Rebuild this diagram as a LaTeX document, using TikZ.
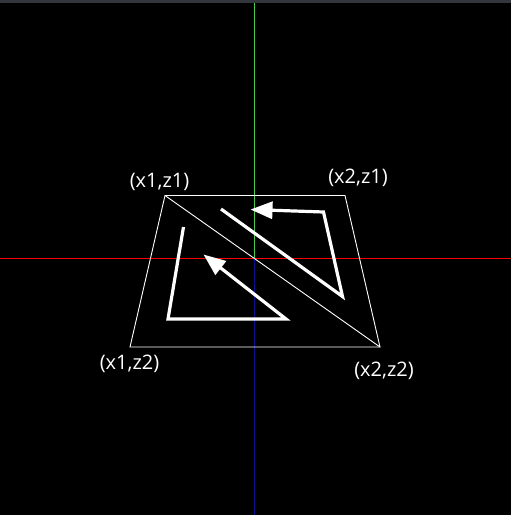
\documentclass[tikz,border=0pt]{standalone}
\usepackage{fontspec}
\setmainfont{Open Sans}
\usetikzlibrary{arrows.meta}
\tikzset{
  edge/.style={draw=white, line width=0.9pt},
  bigarrow/.style={draw=white, line width=3.2pt, line join=miter, -{Triangle[length=22pt,width=17pt]}},
  lbl/.style={text=white, font=\fontsize{20}{24}\selectfont, inner sep=0pt}
}
\begin{document}
\begin{tikzpicture}[x=1pt,y=-1pt]
\fill[black] (0,0) rectangle (511,515);
\useasboundingbox (0,0) rectangle (511,515);
\fill[fill={rgb,255:red,51;green,54;blue,60}] (0,0) rectangle (511,3);
% axes
\coordinate (top) at (254.5,3);
\coordinate (o) at (254.5,258.5);
\coordinate (bot) at (254.5,515);
\coordinate (left) at (0,258.5);
\coordinate (right) at (511,258.5);
\draw[red, line width=1.6pt] (left) -- (right);
\draw[green, line width=1.6pt] (top) -- (o);
\draw[blue, line width=1.6pt] (o) -- (bot);
% trapezoid
\coordinate (A) at (165,195.5);
\coordinate (B) at (345,195.5);
\coordinate (C) at (380,347);
\coordinate (D) at (130,347);
\draw[edge] (A) -- (B) -- (C) -- (D) -- cycle;
\draw[edge] (A) -- (C);
% arrows
\coordinate (p1) at (183.5,227);
\coordinate (p2) at (168,319);
\coordinate (p3) at (286,319);
\coordinate (p4) at (203.5,254.5);
\draw[bigarrow] (p1) -- (p2) -- (p3) -- (p4);
\coordinate (q1) at (221,209);
\coordinate (q2) at (342.5,296.5);
\coordinate (q3) at (323.5,212);
\coordinate (q4) at (250.5,209.5);
\draw[bigarrow] (q1) -- (q2) -- (q3) -- (q4);
% labels
\node[lbl] (l1) at (159.5,182) {(x1,z1)};
\node[lbl] (l2) at (358,177.5) {(x2,z1)};
\node[lbl] (l3) at (129.5,363.5) {(x1,z2)};
\node[lbl] (l4) at (384,371) {(x2,z2)};
\end{tikzpicture}
\end{document}
